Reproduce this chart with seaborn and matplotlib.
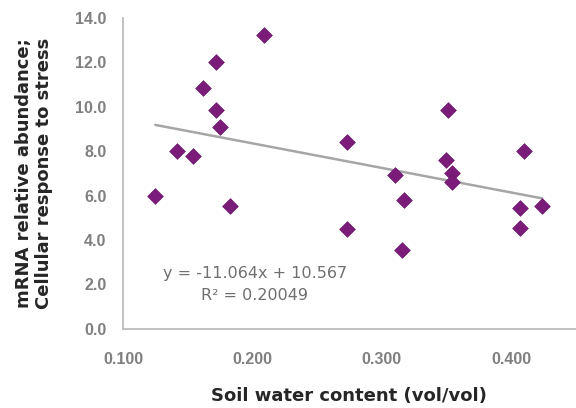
import matplotlib
matplotlib.use("Agg")
import matplotlib.pyplot as plt
import seaborn as sns
import numpy as np
import pandas as pd

soil_water = [0.125, 0.142, 0.154, 0.162, 0.172, 0.172, 0.175, 0.183, 0.209,
              0.273, 0.273, 0.310, 0.317, 0.316, 0.351, 0.350, 0.354, 0.354,
              0.410, 0.407, 0.407, 0.424]
mrna = [6.0, 8.0, 7.8, 10.85, 12.0, 9.85, 9.1, 5.55, 13.25,
        8.4, 4.5, 6.95, 5.8, 3.55, 9.85, 7.6, 7.0, 6.6,
        8.0, 4.55, 5.45, 5.55]
slope = -11.064
intercept = 10.567
r2_text = "0.20049"
x_ticks = [0.1, 0.2, 0.3, 0.4]
x_tick_labels = ["0.100", "0.200", "0.300", "0.400"]
y_ticks = [0, 2, 4, 6, 8, 10, 12, 14]

df = pd.DataFrame({"x": soil_water, "y": mrna})

sns.set_style("white")
plt.rcParams["font.family"] = ["DejaVu Sans"]

fig = plt.figure(figsize=(5.76, 4.08), dpi=100)
ax = fig.add_axes([0.2135, 0.194, 0.786, 0.762])

xs = np.array([min(soil_water), max(soil_water)])
ax.plot(xs, slope * xs + intercept, color="#a6a6a6", lw=1.8, zorder=1)
sns.scatterplot(data=df, x="x", y="y", marker="D", s=64, color="#7b1c7b",
                edgecolor="#6a1a6a", linewidth=0.5, ax=ax, zorder=2)

ax.set_xlim(0.1, 0.45)
ax.set_ylim(0, 14)
ax.set_xticks(x_ticks)
ax.set_xticklabels(x_tick_labels)
ax.set_yticks(y_ticks)
ax.set_yticklabels([f"{v:.1f}" for v in y_ticks])
ax.tick_params(axis="both", colors="#c0c0c0", labelcolor="#808080",
               labelsize=11.5, length=4, width=1, direction="out")
for lab in ax.get_xticklabels() + ax.get_yticklabels():
    lab.set_fontweight("bold")
    lab.set_family("Liberation Sans")
ax.tick_params(axis="x", pad=13)
ax.tick_params(axis="y", pad=8)
for s in ["top", "right"]:
    ax.spines[s].set_visible(False)
for s in ["left", "bottom"]:
    ax.spines[s].set_color("#bcbcbc")
    ax.spines[s].set_linewidth(1.3)

ax.set_xlabel("Soil water content (vol/vol)", fontsize=13, fontweight="bold",
              color="#262626", labelpad=14)
ax.set_ylabel("mRNA relative abundance;\nCellular response to stress",
              fontsize=13, fontweight="bold", color="#262626", labelpad=16,
              linespacing=1.1)

ax.text(0.202, 2.0, f"y = {slope:.3f}x + {intercept:.3f}\nR\u00b2 = {r2_text}",
        ha="center", va="center", fontsize=11.5, color="#6f6f6f",
        linespacing=1.65)

fig.savefig("out.png", dpi=100)
